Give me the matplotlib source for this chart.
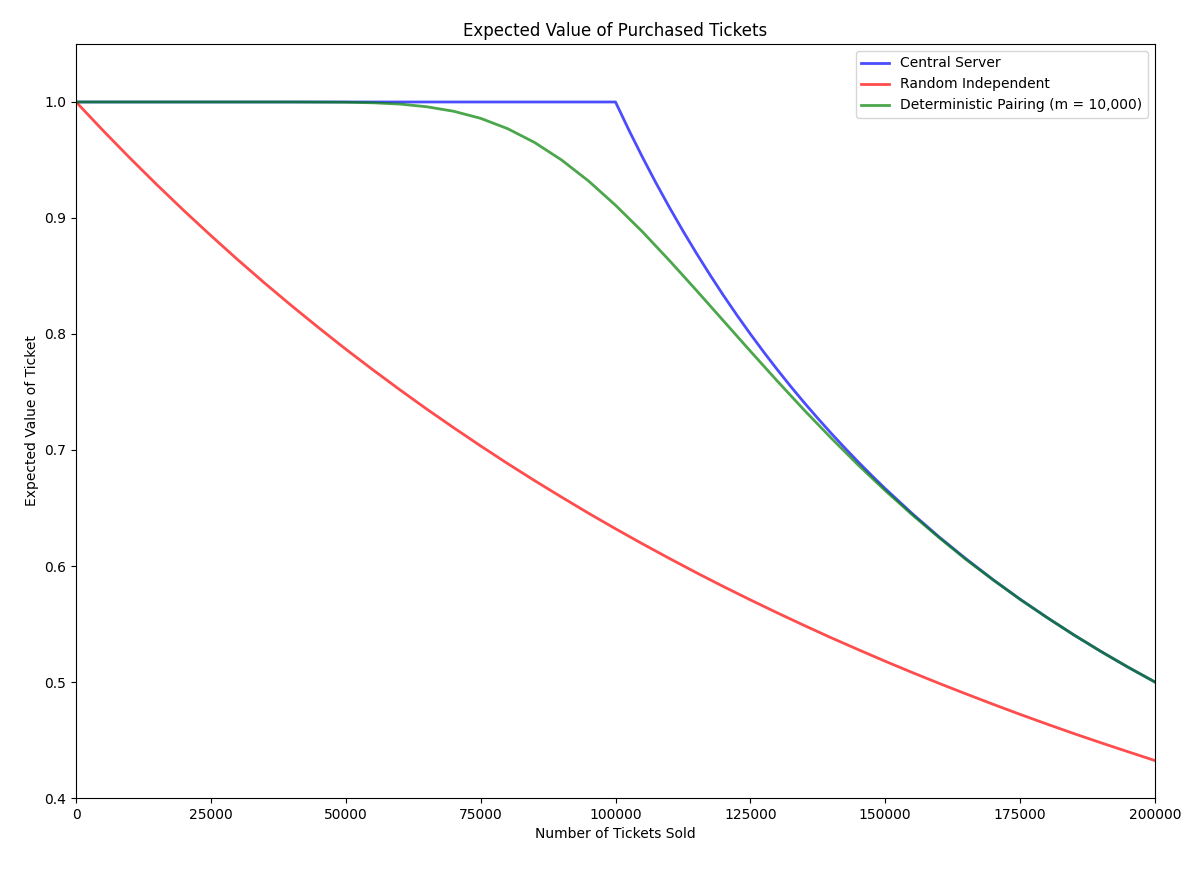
import matplotlib
matplotlib.use('Agg')
import matplotlib.pyplot as plt

tickets = list(range(0, 200001, 5000))

# central server is read more densely past the corner at 100000
central_x = [0, 100000, 102500, 105000, 107500, 110000, 112500, 115000,
             117500, 120000, 122500, 125000, 127500, 130000, 132500, 135000,
             137500, 140000, 142500, 145000, 147500, 150000, 155000, 160000,
             165000, 170000, 175000, 180000, 185000, 190000, 195000, 200000]
central = [1.0, 1.0, 0.9756, 0.9524, 0.9302, 0.9091, 0.8889, 0.8696,
           0.8511, 0.8333, 0.8163, 0.8, 0.7843, 0.7692, 0.7547, 0.7407,
           0.7273, 0.7143, 0.7018, 0.6897, 0.6780, 0.6667, 0.6452, 0.625,
           0.6061, 0.5882, 0.5714, 0.5556, 0.5405, 0.5263, 0.5128, 0.5]

random_ind = [1.0, 0.9754, 0.9516, 0.9286, 0.9063, 0.8848, 0.8639, 0.8437,
              0.8242, 0.8053, 0.7869, 0.7692, 0.7520, 0.7353, 0.7192, 0.7035,
              0.6883, 0.6736, 0.6594, 0.6455, 0.6321, 0.6191, 0.6065, 0.5942,
              0.5823, 0.5708, 0.5596, 0.5487, 0.5381, 0.5279, 0.5179, 0.5082,
              0.4988, 0.4897, 0.4808, 0.4721, 0.4637, 0.4555, 0.4476, 0.4399,
              0.4323]

pairing = [1.0, 1.0, 1.0, 1.0, 1.0, 1.0, 1.0, 1.0, 1.0, 0.9999, 0.9998,
           0.9993, 0.9982, 0.9959, 0.9920, 0.9859, 0.9770, 0.9651, 0.9500,
           0.9319, 0.9110, 0.8881, 0.8633, 0.8376, 0.8114, 0.7852, 0.7594,
           0.7343, 0.7102, 0.6870, 0.6650, 0.6442, 0.6244, 0.6055, 0.5880,
           0.5712, 0.5555, 0.5405, 0.5263, 0.5128, 0.5]

fig = plt.figure(figsize=(11.94, 8.71), dpi=100)
ax = fig.add_subplot(111)
fig.subplots_adjust(left=0.0637, right=0.9673, top=0.9495, bottom=0.0838)

ax.plot(central_x, central, 'b', alpha=0.7, lw=2, label='Central Server')
ax.plot(tickets, random_ind, 'r', alpha=0.7, lw=2, label='Random Independent')
ax.plot(tickets, pairing, 'g', alpha=0.7, lw=2, label='Deterministic Pairing (m = 10,000)')

ax.set_xlim(0, 200000)
ax.set_ylim(0.4, 1.05)
ax.set_xlabel('Number of Tickets Sold')
ax.set_ylabel('Expected Value of Ticket')
ax.set_title('Expected Value of Purchased Tickets')
ax.legend(loc='upper right')

fig.savefig('out.png', dpi=100)
